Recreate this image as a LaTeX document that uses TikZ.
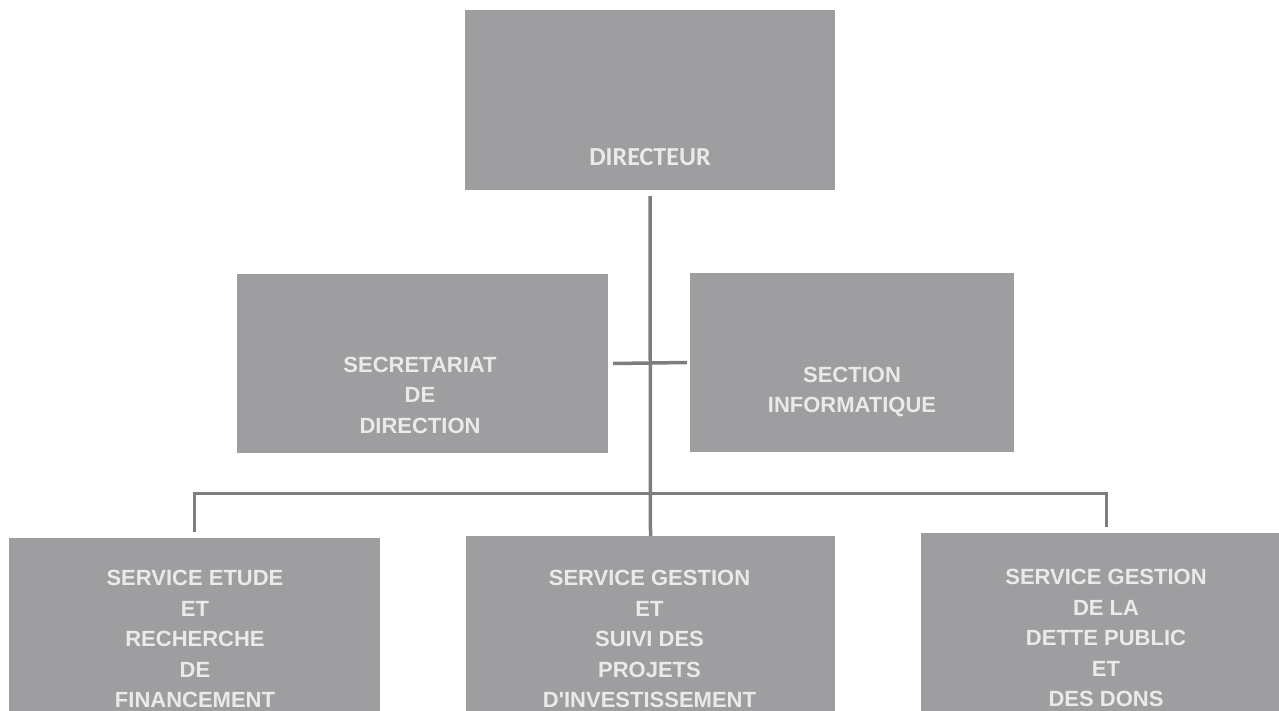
\documentclass[tikz,border=0pt]{standalone}
\usepackage{fontspec}
\setmainfont{Liberation Sans}
\newfontfamily\calfont{Carlito}
\definecolor{boxgray}{RGB}{158,158,160}
\definecolor{txtgray}{RGB}{234,234,234}
\definecolor{linegray}{RGB}{125,125,125}
\tikzset{
  orgbox/.style={fill=boxgray, draw=none, inner sep=0pt, rectangle},
  orgtext/.style={text=txtgray, align=center, inner sep=0pt,
    font=\fontsize{22}{30.5}\selectfont\bfseries},
  dirtext/.style={text=txtgray, align=center, inner sep=0pt,
    font=\fontsize{26}{30}\selectfont\calfont\bfseries},
  link/.style={draw=linegray, line width=3.5pt},
}
\begin{document}
\begin{tikzpicture}[x=1pt,y=-1pt]
\useasboundingbox (0,0) rectangle (1279,711);
\clip (0,0) rectangle (1279,711);
% boxes
\node[orgbox, minimum width=370pt, minimum height=180pt] (dir) at (650,100) {};
\node[orgbox, minimum width=371pt, minimum height=179pt] (sec) at (422.5,363.5) {};
\node[orgbox, minimum width=324pt, minimum height=179pt] (inf) at (852,362.5) {};
\node[orgbox, minimum width=371pt, minimum height=180pt] (s1) at (194.5,628) {};
\node[orgbox, minimum width=369pt, minimum height=180pt] (s2) at (650.5,626) {};
\node[orgbox, minimum width=370pt, minimum height=180pt] (s3) at (1106,623) {};
% texts
\node[dirtext] (tdir) at (650,157) {DIRECTEUR};
\node[orgtext] (tsec) at (420,395) {SECRETARIAT\\DE\\DIRECTION};
\node[orgtext] (tinf) at (852,392) {SECTION\\INFORMATIQUE};
\node[orgtext] (ts1) at (195,639) {SERVICE ETUDE\\ET\\RECHERCHE\\DE\\FINANCEMENT};
\node[orgtext] (ts2) at (649.5,639) {SERVICE GESTION\\ET\\SUIVI DES\\PROJETS\\D\textquotesingle INVESTISSEMENT};
\node[orgtext] (ts3) at (1106,638) {SERVICE GESTION\\DE LA\\DETTE PUBLIC\\ET\\DES DONS};
% connectors
\coordinate (bus) at (650,493);
\draw[link] ([yshift=-6pt]dir.south) -- (s2.north);
\draw[link] ([xshift=5pt]sec.east) -- ([xshift=-3pt]inf.west);
\draw[link, line width=3pt] ([yshift=6pt]s1.north) |- (bus) -| ([yshift=6pt]s3.north);
\end{tikzpicture}
\end{document}
